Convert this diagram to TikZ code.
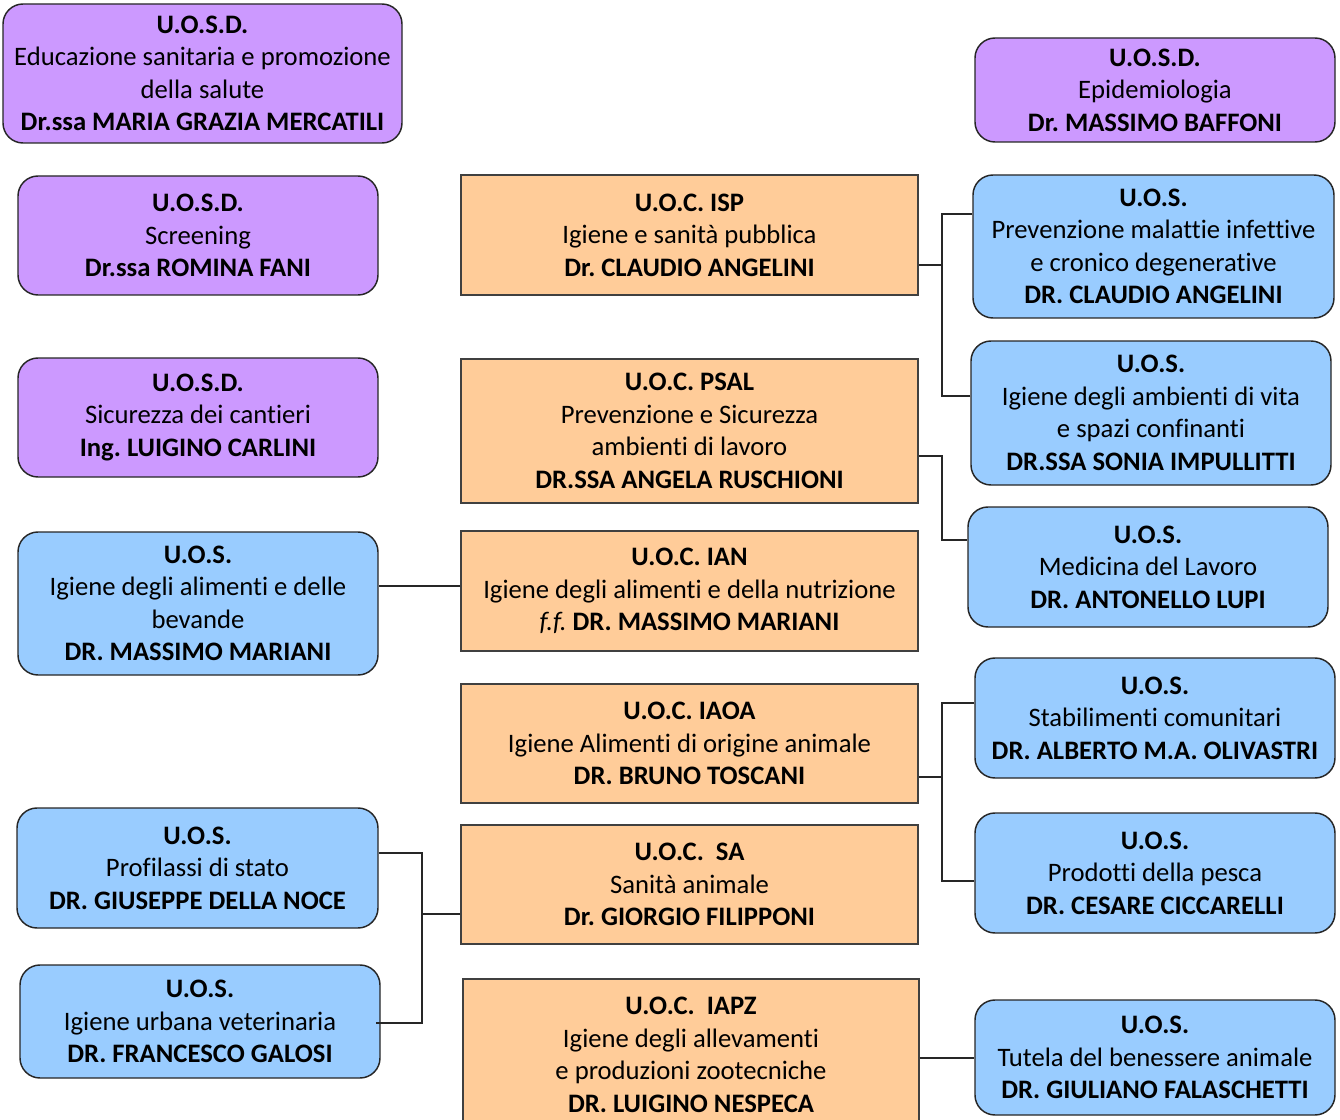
\documentclass[tikz,border=0pt]{standalone}
\usepackage{fontspec}
\setmainfont[Ligatures={NoCommon}]{Carlito}
\frenchspacing
\definecolor{lilla}{HTML}{CC99FF}
\definecolor{celeste}{HTML}{99CCFF}
\definecolor{pesca}{HTML}{FFCC99}

\begin{document}
\begin{tikzpicture}[x=0.75pt,y=-0.75pt,
    font=\fontsize{20}{24.4}\selectfont,
    box/.style 2 args={minimum width=#1*0.75pt,minimum height=#2*0.75pt,
      inner sep=0pt,align=center,line width=1.1pt},
    uosd/.style={draw=black!85,fill=lilla,rounded corners=15pt},
    uos/.style={draw=black!85,fill=celeste,rounded corners=15pt},
    uoc/.style={draw=black!75,fill=pesca},
    conn/.style={line width=1.1pt,black!85}]
      \clip (0,0) rectangle (1340,1120) ;
      % U.O.S.D.
      \node[uosd,box={399}{139}] (edu) at (202.5,73.5) {\textbf{U.O.S.D.}\\Educazione sanitaria e promozione\\della salute\\\textbf{Dr.ssa MARIA GRAZIA MERCATILI}} ;
      \node[uosd,box={360}{119}] (scr) at (198,235.5) {\textbf{U.O.S.D.}\\Screening\\\textbf{Dr.ssa ROMINA FANI}} ;
      \node[uosd,box={360}{119}] (can) at (198,417.5) {\textbf{U.O.S.D.}\\Sicurezza dei cantieri\\\textbf{Ing. LUIGINO CARLINI}} ;
      \node[uosd,box={360}{104}] (epi) at (1155,90) {\textbf{U.O.S.D.}\\Epidemiologia\\\textbf{Dr. MASSIMO BAFFONI}} ;
      % U.O.C.
      \node[uoc,box={457}{120}] (isp) at (689.5,235) {\textbf{U.O.C. ISP}\\Igiene e sanità pubblica\\\textbf{Dr. CLAUDIO ANGELINI}} ;
      \node[uoc,box={457}{144}] (psal) at (689.5,431) {\textbf{U.O.C. PSAL}\\Prevenzione e Sicurezza\\ambienti di lavoro\\\textbf{DR.SSA ANGELA RUSCHIONI}} ;
      \node[uoc,box={457}{120}] (ian) at (689.5,591) {\textbf{U.O.C. IAN}\\Igiene degli alimenti e della nutrizione\\\textit{f.f.} \textbf{DR. MASSIMO MARIANI}} ;
      \node[uoc,box={457}{119}] (iaoa) at (689.5,743.5) {\textbf{U.O.C. IAOA}\\Igiene Alimenti di origine animale\\\textbf{DR. BRUNO TOSCANI}} ;
      \node[uoc,box={457}{119}] (sa) at (689.5,884.5) {\textbf{U.O.C.\ \ SA}\\Sanità animale\\\textbf{Dr. GIORGIO FILIPPONI}} ;
      \node[uoc,box={456}{152}] (iapz) at (691,1055) {\textbf{U.O.C.\ \ IAPZ}\\Igiene degli allevamenti\\e produzioni zootecniche\\\textbf{DR. LUIGINO NESPECA}} ;
      % U.O.S.
      \node[uos,box={360}{143}] (ali) at (198,603.5) {\textbf{U.O.S.}\\Igiene degli alimenti e delle\\bevande\\\textbf{DR. MASSIMO MARIANI}} ;
      \node[uos,box={361}{120}] (pro) at (197.5,868) {\textbf{U.O.S.}\\Profilassi di stato\\\textbf{DR. GIUSEPPE DELLA NOCE}} ;
      \node[uos,box={360}{113}] (urb) at (200,1021.5) {\textbf{U.O.S.}\\Igiene urbana veterinaria\\\textbf{DR. FRANCESCO GALOSI}} ;
      \node[uos,box={361}{143}] (inf) at (1153.5,246.5) {\textbf{U.O.S.}\\Prevenzione malattie infettive\\e cronico degenerative\\\textbf{DR. CLAUDIO ANGELINI}} ;
      \node[uos,box={360}{144}] (amb) at (1151,413) {\textbf{U.O.S.}\\Igiene degli ambienti di vita\\e spazi confinanti\\\textbf{DR.SSA SONIA IMPULLITTI}} ;
      \node[uos,box={360}{120}] (lav) at (1148,567) {\textbf{U.O.S.}\\Medicina del Lavoro\\\textbf{DR. ANTONELLO LUPI}} ;
      \node[uos,box={360}{120}] (sta) at (1155,718) {\textbf{U.O.S.}\\Stabilimenti comunitari\\\textbf{DR. ALBERTO M.A. OLIVASTRI}} ;
      \node[uos,box={360}{120}] (pes) at (1155,873) {\textbf{U.O.S.}\\Prodotti della pesca\\\textbf{DR. CESARE CICCARELLI}} ;
      \node[uos,box={360}{115}] (ben) at (1155,1057.5) {\textbf{U.O.S.}\\Tutela del benessere animale\\\textbf{DR. GIULIANO FALASCHETTI}} ;
      % connettori
      \coordinate (jisp) at (942,265) ;
      \coordinate (jpsal) at (942,456) ;
      \coordinate (jiaoa) at (942,777) ;
      \coordinate (jsa) at (422,914) ;
      \draw[conn] (isp.east |- jisp) -- (jisp) ;
      \draw[conn] (inf.west |- 0,214) -| (jisp) ;
      \draw[conn] (amb.west |- 0,396) -| (jisp) ;
      \draw[conn] (psal.east |- jpsal) -- (jpsal) |- (lav.west |- 0,540) ;
      \draw[conn] (ian.west |- 0,586) -- (ali.east |- 0,586) ;
      \draw[conn] (iaoa.east |- jiaoa) -- (jiaoa) ;
      \draw[conn] (sta.west |- 0,703) -| (jiaoa) ;
      \draw[conn] (pes.west |- 0,881) -| (jiaoa) ;
      \draw[conn] (iapz.east |- 0,1058) -- (ben.west |- 0,1058) ;
      \draw[conn] (sa.west |- jsa) -- (jsa) ;
      \draw[conn] (pro.east |- 0,853) -| (jsa) ;
      \draw[conn] (376,1023) -| (jsa) ;
\end{tikzpicture}
\end{document}
